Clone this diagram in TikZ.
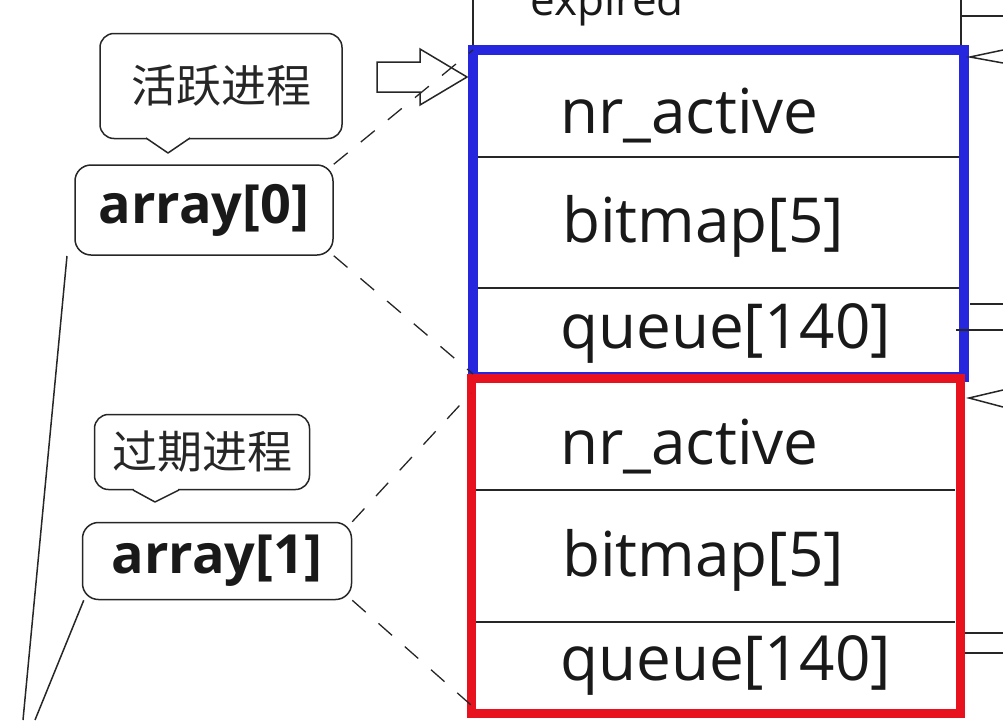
\documentclass[tikz,border=0pt]{standalone}
\usepackage{fontspec}
\setmainfont{Open Sans}
\newfontfamily\cjk{Noto Sans CJK SC}
\definecolor{bblue}{RGB}{38,38,222}
\definecolor{rred}{RGB}{232,18,30}
\begin{document}
\begin{tikzpicture}[x=1pt,y=-1pt,
  thinline/.style={line width=1.5pt, draw=black!85},
  dline/.style={line width=1.3pt, draw=black!85, dash pattern=on 18pt off 17pt},
  rowtext/.style={anchor=base west, inner sep=0pt, font=\fontsize{62}{70}\selectfont, text=black!90},
  arrbox/.style={draw=black!85, line width=1.5pt, rounded corners=16pt, inner sep=0pt, font=\bfseries\fontsize{54}{60}\selectfont, text=black!90},
  callbox/.style={draw=black!85, line width=1.5pt, rounded corners=14pt, inner sep=0pt, font=\cjk\fontsize{45}{50}\selectfont, text=black!85}
]
\useasboundingbox (0,0) rectangle (1003,720);

% table coordinates
\coordinate (bnw) at (473,50);
\coordinate (bse) at (964,377);
\coordinate (bsw) at (473,374);
\coordinate (rnw) at (471,378);
\coordinate (rse) at (960,713);
\coordinate (ra) at (471,393);
\coordinate (rb) at (471,705);

% expired row
\draw[thinline] (473,0) -- (473,45);
\draw[thinline] (961,0) -- (961,45);
\node[anchor=base west, inner sep=0pt, font=\fontsize{44}{50}\selectfont, text=black!90] (exp) at (530,15) {expired};

% row separators
\draw[thinline] (478,157) -- (959,157);
\draw[thinline] (478,288) -- (959,288);
\draw[thinline] (476,490) -- (955,490);
\draw[thinline] (476,622) -- (955,622);

% row texts
\node[rowtext] (b1) at (560,133) {nr\_active};
\node[rowtext] (b2) at (562,242) {bitmap[5]};
\node[rowtext] (b3) at (560,348) {queue[140]};
\node[rowtext] (r1) at (560,464) {nr\_active};
\node[rowtext] (r2) at (562,576) {bitmap[5]};
\node[rowtext] (r3) at (560,680) {queue[140]};

% coloured frames
\draw[bblue, line width=10pt] (bnw) rectangle (bse);
\draw[rred, line width=9pt] (rnw) rectangle (rse);

% right side fragments
\draw[thinline] (961,16) -- (1003,16);
\draw[thinline] (1003,50) -- (970,57) -- (1003,63);
\draw[thinline] (970,304) -- (1003,304);
\draw[thinline] (956,330) -- (1003,330);
\draw[thinline] (1003,390) -- (969,398) -- (1003,407);
\draw[thinline] (965,633) -- (1003,633);
\draw[thinline] (965,653) -- (1003,653);

% callouts
\node[callbox, minimum width=242pt, minimum height=105pt] (c1) at (221,86) {活跃进程};
\fill[white] (147,136) rectangle (189,140);
\draw[thinline, line join=round] (146,138) -- (168,153) -- (190,138);
\node[callbox, minimum width=215pt, minimum height=75pt] (c2) at (202,452) {过期进程};
\fill[white] (134,488) rectangle (178,492);
\draw[thinline, line join=round] (133,490) -- (155,502) -- (179,490);

% array boxes
\node[arrbox, minimum width=258pt, minimum height=90pt] (a0) at (204,210) {array[0]};
\node[arrbox, minimum width=269pt, minimum height=77pt] (a1) at (217,561) {array[1]};

% block arrow
\draw[thinline] (377,62) -- (420,62) -- (420,49) -- (467,77) -- (420,105) -- (420,92) -- (377,92) -- cycle;

% dashed connectors
\draw[dline] (a0.north east) -- (bnw);
\draw[dline] (a0.south east) -- (bsw);
\draw[dline] (a1.north east) -- (ra);
\draw[dline] (a1.south east) -- (rb);

% long lines on the left
\coordinate (l1a) at (67,256);
\coordinate (l1b) at (23,720);
\coordinate (l2b) at (35,720);
\draw[thinline] (l1a) -- (l1b);
\draw[thinline] ([xshift=2pt]a1.south west) -- (l2b);
\end{tikzpicture}
\end{document}
